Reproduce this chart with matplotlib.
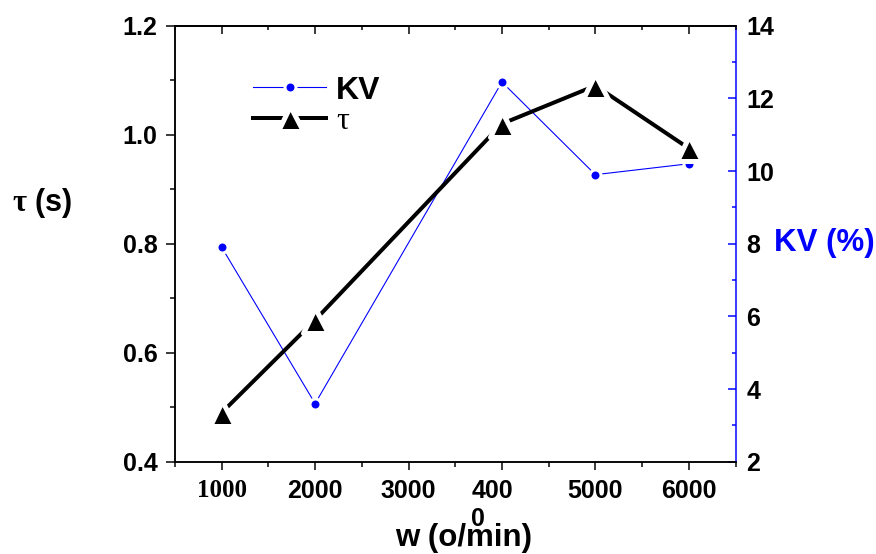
import matplotlib
matplotlib.use("Agg")
import matplotlib.pyplot as plt
from matplotlib.ticker import MultipleLocator
from matplotlib.markers import MarkerStyle
import matplotlib.transforms as mtransforms

plt.rcParams['font.family'] = ['Liberation Sans', 'DejaVu Sans']
plt.rcParams['font.weight'] = 'bold'
plt.rcParams['mathtext.fontset'] = 'custom'
plt.rcParams['mathtext.rm'] = 'Liberation Serif'

# ---- data ----
speed = [1000, 2000, 4000, 5000, 6000]
tau = [0.49, 0.66, 1.02, 1.09, 0.975]
kv = [7.9, 3.6, 12.45, 9.9, 10.2]
xtick_vals = [1000, 2000, 3000, 4000, 5000, 6000]
xtick_labels = ["1000", "2000", "3000", "400\n0", "5000", "6000"]
tau_ticks = [0.4, 0.6, 0.8, 1.0, 1.2]
kv_ticks = [2, 4, 6, 8, 10, 12, 14]

PX = 72 / 100.0  # points per pixel at dpi 100
BLUE = '#0000FF'

fig = plt.figure(figsize=(8.76, 5.54), dpi=100)
ax = fig.add_axes([175 / 876, 1 - 461.7 / 554, (735.5 - 175) / 876, (461.7 - 25.7) / 554])
ax2 = ax.twinx()
# draw the tau axes above the KV axes
ax.set_zorder(ax2.get_zorder() + 1)
ax.patch.set_visible(False)

# tau series (black thick, triangles)
tri = MarkerStyle('^', joinstyle='round')
l_tau, = ax.plot(speed, tau, color='black', lw=4 * PX, marker=tri,
                 markersize=25 * PX, markerfacecolor='black',
                 markeredgecolor='white', markeredgewidth=5 * PX, zorder=3)
# KV series (blue thin, circles)
l_kv, = ax2.plot(speed, kv, color=BLUE, lw=1.1 * PX, marker='o',
                 markersize=11 * PX, markerfacecolor=BLUE,
                 markeredgecolor='white', markeredgewidth=3 * PX, zorder=3)

# limits / ticks
ax.set_xlim(500, 6500)
ax.set_ylim(0.4, 1.2)
ax2.set_ylim(2, 14)
ax.set_xticks(xtick_vals, xtick_labels)
ax.xaxis.set_minor_locator(MultipleLocator(500))
ax.set_yticks(tau_ticks, [f"{v:.1f}" for v in tau_ticks])
ax.yaxis.set_minor_locator(MultipleLocator(0.1))
ax2.set_yticks(kv_ticks, [str(v) for v in kv_ticks])
ax2.yaxis.set_minor_locator(MultipleLocator(1))

sw = 1.5 * PX
for sp in ax.spines.values():
    sp.set_linewidth(sw)
for sp in ax2.spines.values():
    sp.set_linewidth(sw)
ax2.spines['right'].set_color(BLUE)
ax.spines['right'].set_visible(False)

ax.tick_params(axis='x', which='major', direction='out', length=8 * PX, width=sw,
               labelsize=18, pad=7)
ax.tick_params(axis='x', which='minor', direction='out', length=5 * PX, width=sw)
ax.tick_params(axis='y', which='major', direction='out', length=9 * PX, width=sw,
               labelsize=18, pad=6)
ax.tick_params(axis='y', which='minor', direction='out', length=5 * PX, width=sw)
ax2.tick_params(axis='y', which='major', direction='in', length=8 * PX, width=sw,
                color=BLUE, labelcolor='black', labelsize=18, pad=8)
ax2.tick_params(axis='y', which='minor', direction='in', length=4 * PX, width=sw,
                color=BLUE)

# top axis ticks (inward)
sec = ax.secondary_xaxis('top')
sec.set_xticks(xtick_vals)
sec.xaxis.set_minor_locator(MultipleLocator(500))
sec.tick_params(axis='x', which='major', direction='in', length=8 * PX, width=sw,
                labeltop=False)
sec.tick_params(axis='x', which='minor', direction='in', length=4 * PX, width=sw)
sec.spines['top'].set_linewidth(sw)

# tick label styling
xlabels = ax.get_xticklabels()
xlabels[0].set_fontfamily('Liberation Serif')
xlabels[3].set_multialignment('left')
xlabels[3].set_transform(xlabels[3].get_transform() +
                         mtransforms.ScaledTranslation(-10 / 100, 0, fig.dpi_scale_trans))

# axis labels
ax.set_xlabel('w (o/min)', fontsize=22.5, fontweight='bold')
ax.xaxis.set_label_coords(0.514, -0.1745)
ax.xaxis.label.set_va('center')
ax.set_ylabel(r'$\mathrm{\tau}$ (s)', fontsize=22, fontweight='bold', rotation=0,
              ha='center', va='center')
ax.yaxis.set_label_coords(-0.237, 0.593)
ax2.set_ylabel('KV (%)', fontsize=22.5, fontweight='bold', color=BLUE, rotation=0,
               ha='center', va='center')
ax2.yaxis.set_label_coords(1.158, 0.5016)

# legend
leg = ax.legend([l_kv, l_tau], ['KV', 'τ'], frameon=False, fontsize=23,
                loc='center left', bbox_to_anchor=(253 / 876, 1 - 106 / 554),
                bbox_transform=fig.transFigure, borderpad=0, borderaxespad=0,
                handlelength=2.3, handletextpad=0.3, labelspacing=0.05)
leg.get_texts()[1].set_fontfamily('Liberation Serif')
leg.get_texts()[1].set_fontweight('normal')

fig.savefig('out.png', dpi=100)
